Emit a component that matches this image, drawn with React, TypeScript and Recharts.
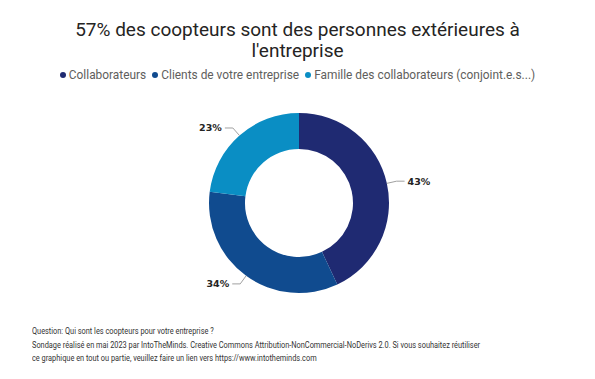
import React from "react";
import { PieChart, Pie, Cell } from "recharts";

const categories = [
  "Collaborateurs",
  "Clients de votre entreprise",
  "Famille des collaborateurs (conjoint.e.s...)",
];
const shares = [43, 34, 23];
const colors = ["#1f2a72", "#104b8f", "#0a8ec4"];

const data = categories.map((name, i) => ({ name, value: shares[i] }));

const RADIAN = Math.PI / 180;

function renderLabel(props: any) {
  const { cx, cy, midAngle, outerRadius, value } = props;
  const cos = Math.cos(-midAngle * RADIAN);
  const sin = Math.sin(-midAngle * RADIAN);
  const sx = cx + outerRadius * cos;
  const sy = cy + outerRadius * sin;
  const mx = cx + (outerRadius + 10) * cos;
  const my = cy + (outerRadius + 10) * sin;
  const right = cos >= 0;
  const ex = mx + (right ? 8 : -8);
  return (
    <g>
      <polyline
        points={`${sx},${sy} ${mx},${my} ${ex},${my}`}
        stroke="#a0a0a0"
        fill="none"
        strokeWidth={1}
      />
      <text
        x={ex + (right ? 3 : -3)}
        y={my}
        textAnchor={right ? "start" : "end"}
        dominantBaseline="central"
        fontSize={9.5}
        fontWeight={700}
        fill="#252423"
        fontFamily="'DejaVu Sans', sans-serif"
      >
        {`${value}%`}
      </text>
    </g>
  );
}

function TopLegend() {
  return (
    <div
      style={{
        position: "absolute",
        top: 67,
        left: 0,
        width: 595,
        display: "flex",
        justifyContent: "center",
        gap: 6,
        fontFamily: "Roboto, sans-serif",
        fontSize: 11.9,
        lineHeight: "16px",
        color: "#605e5c",
        whiteSpace: "nowrap",
      }}
    >
      {categories.map((c, i) => (
        <div key={c} style={{ display: "flex", alignItems: "center" }}>
          <span
            style={{
              display: "inline-block",
              width: 6,
              height: 6,
              borderRadius: 3,
              background: colors[i],
              marginRight: 3,
            }}
          />
          {c}
        </div>
      ))}
    </div>
  );
}

export default function App() {
  return (
    <div
      style={{
        position: "absolute",
        left: 0,
        top: 0,
        width: 595,
        height: 379,
        background: "#ffffff",
      }}
    >
      <div
        style={{
          position: "absolute",
          top: 19,
          left: 0,
          width: 595,
          textAlign: "center",
          fontFamily: "Roboto, sans-serif",
          fontSize: 19,
          lineHeight: "21px",
          color: "#252423",
        }}
      >
        57% des coopteurs sont des personnes extérieures à
        <br />
        l'entreprise
      </div>
      <TopLegend />
      <PieChart
        width={595}
        height={300}
        margin={{ top: 0, right: 0, bottom: 0, left: 0 }}
        style={{ position: "absolute", left: 0, top: 0 }}
      >
        <Pie
          data={data}
          dataKey="value"
          nameKey="name"
          cx={299}
          cy={203}
          innerRadius={54}
          outerRadius={90}
          startAngle={90}
          endAngle={-270}
          stroke="none"
          label={renderLabel}
          labelLine={false}
          isAnimationActive={false}
        >
          {data.map((d, i) => (
            <Cell key={d.name} fill={colors[i]} />
          ))}
        </Pie>
      </PieChart>
      <div
        style={{
          position: "absolute",
          left: 32,
          top: 325,
          fontSize: 9,
          lineHeight: "13.5px",
          color: "#333333",
          fontFamily: "Roboto, sans-serif",
          whiteSpace: "nowrap",
          transform: "scaleX(0.82)",
          transformOrigin: "left top",
        }}
      >
        Question: Qui sont les coopteurs pour votre entreprise ?
        <br />
        Sondage réalisé en mai 2023 par IntoTheMinds. Creative Commons Attribution-NonCommercial-NoDerivs 2.0. Si vous souhaitez réutiliser
        <br />
        ce graphique en tout ou partie, veuillez faire un lien vers https://www.intotheminds.com
      </div>
    </div>
  );
}
